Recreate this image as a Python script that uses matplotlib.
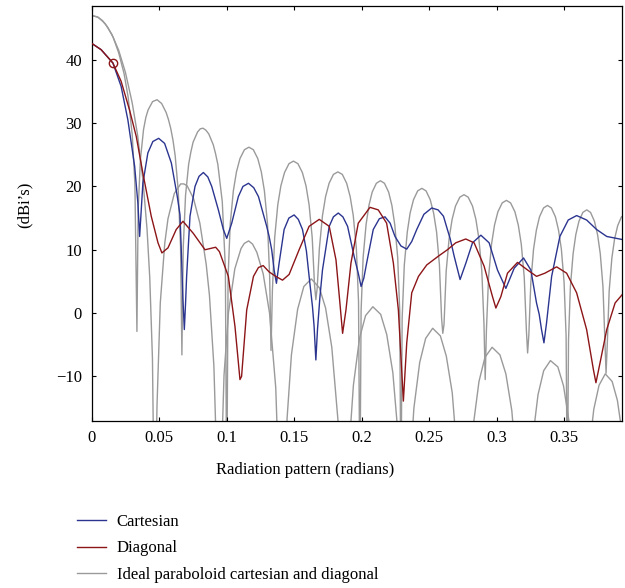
import matplotlib
matplotlib.use("Agg")
import matplotlib.pyplot as plt

cart_x = [0.0, 0.007, 0.0157, 0.0218, 0.0268, 0.0318, 0.0342, 0.0355, 0.0379, 0.0416,
          0.0453, 0.0496, 0.054, 0.059, 0.0634, 0.0654, 0.0665, 0.0675, 0.0686, 0.0695,
          0.0703, 0.0728, 0.0765, 0.0795, 0.0827, 0.086, 0.0889, 0.0938, 0.0975, 0.1,
          0.1037, 0.1086, 0.112, 0.1161, 0.12, 0.1235, 0.1296, 0.1314, 0.1333, 0.1351,
          0.1368, 0.1388, 0.1425, 0.146, 0.1499, 0.153, 0.1561, 0.159, 0.161, 0.1635,
          0.1647, 0.166, 0.1672, 0.169, 0.1709, 0.1759, 0.179, 0.1826, 0.186, 0.1895,
          0.1944, 0.1974, 0.1995, 0.2015, 0.2036, 0.2085, 0.213, 0.2172, 0.221, 0.2246,
          0.229, 0.2333, 0.237, 0.2407, 0.246, 0.2518, 0.2565, 0.2605, 0.2634, 0.2654,
          0.2684, 0.2728, 0.2771, 0.282, 0.2882, 0.2943, 0.3005, 0.3067, 0.3129, 0.3198,
          0.3252, 0.3294, 0.3314, 0.3331, 0.3349, 0.3368, 0.3406, 0.3467, 0.3529, 0.3591,
          0.3665, 0.3739, 0.3814, 0.3933]
cart_y = [42.6, 41.6, 39.5, 35.8, 30.5, 23.2, 17.4, 12.1, 20.5, 25.3,
          27.1, 27.6, 26.8, 23.7, 18.4, 15.5, 9.0, 2.5, -2.6, 1.5,
          5.8, 15.3, 20.0, 21.6, 22.2, 21.5, 20.0, 16.3, 13.2, 11.8,
          14.2, 18.4, 20.0, 20.5, 19.8, 18.4, 13.7, 12.1, 10.0, 6.8,
          4.7, 7.9, 13.2, 15.0, 15.5, 14.8, 13.2, 9.8, 5.8, 1.0,
          -2.1, -7.4, -2.6, 2.5, 6.8, 13.7, 15.2, 15.8, 15.2, 13.7,
          8.9, 6.3, 4.2, 5.5, 7.9, 13.2, 14.9, 15.2, 14.2, 12.1,
          10.6, 10.1, 11.3, 13.2, 15.6, 16.6, 16.3, 15.3, 13.2, 11.8,
          9.0, 5.3, 7.9, 11.1, 12.3, 11.1, 6.8, 3.9, 7.1, 8.7,
          6.8, 1.6, -0.2, -2.6, -4.7, -1.6, 5.8, 12.1, 14.7, 15.4,
          14.7, 13.2, 12.1, 11.6]

diag_x = [0.0, 0.007, 0.0157, 0.0218, 0.028, 0.033, 0.0379, 0.0441, 0.0491, 0.052,
          0.0565, 0.0626, 0.0676, 0.0752, 0.0839, 0.0918, 0.0946, 0.1012, 0.1061, 0.1098,
          0.111, 0.1148, 0.1198, 0.1235, 0.127, 0.1314, 0.1363, 0.1413, 0.1462, 0.1536,
          0.161, 0.1685, 0.1759, 0.1809, 0.1838, 0.1858, 0.1883, 0.192, 0.1974, 0.2061,
          0.2122, 0.2184, 0.2234, 0.2271, 0.2308, 0.2333, 0.237, 0.242, 0.2481, 0.2568,
          0.2634, 0.2696, 0.277, 0.2832, 0.2906, 0.2968, 0.2993, 0.303, 0.3079, 0.3153,
          0.3228, 0.3294, 0.3356, 0.3443, 0.3517, 0.3591, 0.3665, 0.3715, 0.3734, 0.3764,
          0.3814, 0.3876, 0.3932]
diag_y = [42.6, 41.6, 39.5, 36.6, 32.1, 27.9, 22.1, 15.3, 11.1, 9.5,
          10.3, 13.2, 14.5, 12.6, 10.0, 10.4, 9.7, 5.8, -2.1, -10.5,
          -10.0, 0.5, 5.8, 7.2, 7.5, 6.5, 5.8, 5.2, 6.1, 10.0,
          13.7, 14.8, 13.7, 8.4, 1.6, -3.2, 0.5, 7.9, 14.2, 16.7,
          16.3, 14.2, 7.9, 0.5, -13.9, -4.7, 3.2, 5.8, 7.6, 9.0,
          10.0, 11.1, 11.7, 11.1, 7.4, 2.6, 0.8, 2.6, 6.3, 8.0,
          6.8, 5.8, 6.3, 7.3, 6.3, 3.2, -2.6, -8.9, -11.0, -7.9,
          -2.6, 1.6, 3.0]

# ideal paraboloid, cartesian cut
ideal_cart_x = [0.0, 0.004, 0.008, 0.012, 0.016, 0.020, 0.024, 0.027, 0.030, 0.032, 0.0335,
                0.0344, 0.0361, 0.0384, 0.0401, 0.0418, 0.0451, 0.0484, 0.0518, 0.0551, 0.0568, 0.0585,
                0.0602, 0.0618, 0.0641, 0.0658, 0.0668,
                0.0678, 0.0695, 0.0718, 0.0734, 0.0751, 0.0784, 0.0804, 0.0824, 0.0845, 0.0867, 0.0900,
                0.0917, 0.0934, 0.0967, 0.0990, 0.1000,
                0.1010, 0.1026, 0.1049, 0.1072, 0.1098, 0.1131, 0.1164, 0.1197, 0.1230, 0.1256, 0.1279, 0.1302, 0.1318, 0.1328,
                0.1338, 0.1355, 0.1378, 0.1401, 0.1428, 0.1461, 0.1494, 0.1527, 0.1560, 0.1587, 0.1610, 0.1633, 0.1650, 0.1660,
                0.1670, 0.1686, 0.1709, 0.1732, 0.1758, 0.1790, 0.1823, 0.1856, 0.1888, 0.1914, 0.1937, 0.1960, 0.1976, 0.1986,
                0.1995, 0.2010, 0.2032, 0.2053, 0.2077, 0.2108, 0.2138, 0.2168, 0.2199, 0.2223, 0.2244, 0.2266, 0.2281, 0.2290,
                0.2299, 0.2315, 0.2337, 0.2358, 0.2383, 0.2414, 0.2445, 0.2476, 0.2507, 0.2532, 0.2554, 0.2575, 0.2591, 0.2600,
                0.2609, 0.2625, 0.2647, 0.2669, 0.2694, 0.2726, 0.2757, 0.2788, 0.2820, 0.2845, 0.2867, 0.2889, 0.2905, 0.2914,
                0.2923, 0.2939, 0.2961, 0.2983, 0.3008, 0.3040, 0.3071, 0.3102, 0.3134, 0.3159, 0.3181, 0.3203, 0.3219, 0.3228,
                0.3237, 0.3252, 0.3272, 0.3293, 0.3316, 0.3346, 0.3375, 0.3404, 0.3434, 0.3457, 0.3478, 0.3498, 0.3513, 0.3522,
                0.3531, 0.3545, 0.3565, 0.3585, 0.3608, 0.3637, 0.3666, 0.3694, 0.3723, 0.3746, 0.3766, 0.3786, 0.3800, 0.3809,
                0.3818, 0.3832, 0.3852, 0.3872, 0.3895, 0.3923, 0.3952]
ideal_cart_y = [47.0, 46.8, 46.2, 45.1, 43.5, 41.1, 37.8, 34.1, 28.2, 20.4, -2.9,
                16.3, 24.3, 29.0, 30.9, 32.1, 33.4, 33.7, 33.1, 31.7, 30.6, 29.2,
                27.3, 24.9, 19.3, 10.6, -6.6,
                10.4, 18.6, 23.5, 25.4, 27.0, 28.6, 29.1, 29.2, 28.9, 28.3, 26.6,
                25.2, 23.5, 17.6, 7.1, -30.0,
                5.7, 14.1, 19.3, 22.3, 24.4, 25.8, 26.2, 25.8, 24.4, 22.3, 19.3, 14.1, 5.7, -5.9,
                3.5, 11.9, 17.1, 20.1, 22.2, 23.6, 24.0, 23.6, 22.2, 20.1, 17.1, 11.9, 4.5, 2.1,
                4.0, 10.2, 15.4, 18.4, 20.5, 21.9, 22.3, 21.9, 20.5, 18.4, 15.4, 10.2, 1.8, -30.0,
                0.4, 8.8, 14.0, 17.0, 19.1, 20.5, 20.9, 20.5, 19.1, 17.0, 14.0, 8.8, 0.4, -30.0,
                -0.8, 7.6, 12.8, 15.8, 17.9, 19.3, 19.7, 19.3, 17.9, 15.8, 12.8, 7.6, -0.8, -3.2,
                -1.8, 6.6, 11.8, 14.8, 16.9, 18.3, 18.7, 18.3, 16.9, 14.8, 11.8, 6.6, -1.8, -10.5,
                -2.7, 5.7, 10.9, 13.9, 16.0, 17.4, 17.8, 17.4, 16.0, 13.9, 10.9, 5.7, -2.7, -6.3,
                -3.5, 4.9, 10.1, 13.1, 15.2, 16.6, 17.0, 16.6, 15.2, 13.1, 10.1, 4.9, -3.5, -30.0,
                -4.2, 4.2, 9.4, 12.4, 14.5, 15.9, 16.3, 15.9, 14.5, 12.4, 9.4, 4.2, -4.2, -9.5,
                -4.9, 3.5, 8.7, 11.7, 13.8, 15.2, 15.6]

# ideal paraboloid, diagonal cut
ideal_diag_x = [0.0, 0.005, 0.010, 0.015, 0.020, 0.025, 0.030, 0.034, 0.038, 0.041, 0.043, 0.045, 0.0465,
                0.0484, 0.0508, 0.0541, 0.0565, 0.0612, 0.0659, 0.0683, 0.0707, 0.0754, 0.0801, 0.0848,
                0.0872, 0.0905, 0.0929, 0.0943,
                0.0957, 0.0980, 0.1013, 0.1060, 0.1106, 0.1130, 0.1162, 0.1191, 0.1223, 0.1270, 0.1317,
                0.1363, 0.1396, 0.1410,
                0.1447, 0.1479, 0.1525, 0.1571, 0.1626, 0.1686, 0.1732, 0.1778, 0.1824, 0.1870,
                0.1906, 0.1938, 0.1983, 0.2028, 0.2082, 0.2140, 0.2185, 0.2230, 0.2275, 0.2320,
                0.2355, 0.2386, 0.2429, 0.2473, 0.2525, 0.2582, 0.2626, 0.2670, 0.2713, 0.2757,
                0.2823, 0.2868, 0.2912, 0.2965, 0.3023, 0.3067, 0.3111, 0.3156, 0.3200,
                0.3263, 0.3305, 0.3347, 0.3397, 0.3452, 0.3494, 0.3536, 0.3578, 0.3620,
                0.3679, 0.3718, 0.3757, 0.3803, 0.3854, 0.3893, 0.3932, 0.3970]
ideal_diag_y = [47.0, 46.7, 45.7, 44.0, 41.5, 38.0, 33.2, 28.1, 20.9, 13.2, 5.6, -7.2, -35.0,
                -14.4, 1.6, 11.0, 14.9, 18.9, 20.4, 20.4, 20.1, 18.1, 14.2, 7.7,
                2.8, -8.4, -25.8, -40.0,
                -26.2, -9.8, 0.1, 7.0, 10.2, 11.0, 11.4, 10.9, 9.6, 6.2, 0.0,
                -11.8, -32.8, -40.0,
                -16.6, -6.6, 0.6, 4.2, 5.4, 4.0, 0.8, -5.4, -17.0, -40.0,
                -21.4, -11.4, -4.0, -0.4, 1.0, -0.2, -3.4, -9.4, -20.8, -40.0,
                -25.2, -15.0, -7.8, -4.0, -2.4, -3.6, -6.8, -12.6, -24.2, -40.0,
                -18.2, -10.8, -7.0, -5.4, -6.6, -9.6, -15.4, -26.8, -40.0,
                -20.3, -12.9, -9.1, -7.5, -8.5, -11.5, -17.3, -28.0, -40.0,
                -22.6, -15.2, -11.4, -9.6, -10.8, -13.8, -19.6, -30.0]

mark_x = [0.0157]
mark_y = [39.5]

xticks = [0, 0.05, 0.1, 0.15, 0.2, 0.25, 0.3, 0.35]
xtick_labels = ["0", "0.05", "0.1", "0.15", "0.2", "0.25", "0.3", "0.35"]
yticks = [-10, 0, 10, 20, 30, 40]

plt.rcParams['font.family'] = ['Liberation Serif', 'DejaVu Serif']
plt.rcParams['font.size'] = 12

fig = plt.figure(figsize=(6.25, 5.88), dpi=100)
ax = fig.add_axes([0.1467, 0.2845, 0.8485, 0.7053])

gray = '#9a9a9a'
blue = '#2b3590'
red = '#8c1518'

ax.plot(ideal_cart_x, ideal_cart_y, color=gray, lw=1.0,
        label='Ideal paraboloid cartesian and diagonal', zorder=1)
ax.plot(ideal_diag_x, ideal_diag_y, color=gray, lw=1.0, zorder=1)
ax.plot(cart_x, cart_y, color=blue, lw=1.0, label='Cartesian', zorder=2)
ax.plot(diag_x, diag_y, color=red, lw=1.0, label='Diagonal', zorder=3)
ax.plot(mark_x, mark_y, 'o', mfc='none', mec=red, ms=6, mew=1.0, zorder=4)

ax.set_xlim(0, 0.3927)
ax.set_ylim(-17, 48.5)
ax.set_xticks(xticks)
ax.set_xticklabels(xtick_labels)
ax.set_yticks(yticks)
ax.tick_params(direction='in', length=3, width=0.8, top=True, right=True, pad=7)
for s in ax.spines.values():
    s.set_linewidth(0.9)

ax.set_xlabel('Radiation pattern (radians)')
ax.xaxis.set_label_coords(0.402, -0.1)
ax.set_ylabel('(dBi\u2019s)')
ax.yaxis.set_label_coords(-0.111, 0.52)

h, l = ax.get_legend_handles_labels()
order = [1, 2, 0]
fig.legend([h[i] for i in order], [l[i] for i in order], loc='upper left',
           bbox_to_anchor=(0.112, 0.137), frameon=False, handlelength=1.75,
           handletextpad=0.65, labelspacing=0.62, borderaxespad=0)

fig.savefig('out.png', dpi=100)
